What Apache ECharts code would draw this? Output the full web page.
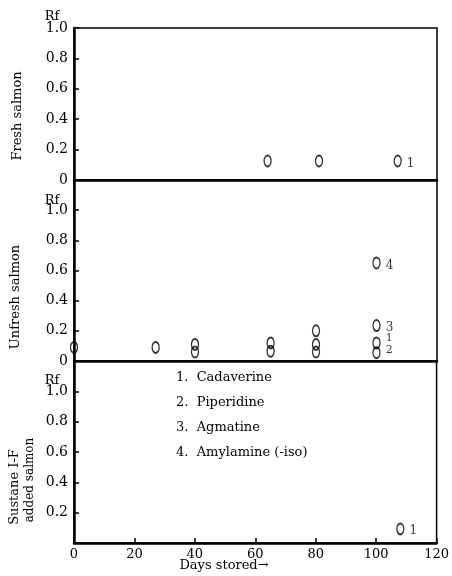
<!DOCTYPE html>
<html>
<head>
<meta charset="utf-8">
<script src="https://cdn.jsdelivr.net/npm/echarts@6/dist/echarts.min.js"></script>
<style>
html, body { margin: 0; padding: 0; background: #fff; }
#chart { width: 452px; height: 576px; }
</style>
</head>
<body>
<div id="chart"></div>
<script>
// axis ticks
const dayTicks = [0, 20, 40, 60, 80, 100, 120]
const rfTicks = [0, 0.2, 0.4, 0.6, 0.8, 1.0]

// fresh salmon spots
const freshDays = [64, 81, 107]
const freshRf = [0.125, 0.125, 0.125]
const freshTags = ['', '', '1']

// unfresh salmon spots (one pair of arrays per amine)
const cadDays = [0, 27, 40, 65, 80, 100]
const cadRf = [0.09, 0.09, 0.11, 0.12, 0.11, 0.12]
const cadTags = ['', '', '', '', '', '1']
const pipDays = [40, 65, 80, 100]
const pipRf = [0.06, 0.065, 0.06, 0.055]
const pipTags = ['', '', '', '2']
const agmDays = [80, 100]
const agmRf = [0.2, 0.235]
const agmTags = ['', '3']
const amyDays = [100]
const amyRf = [0.65]
const amyTags = ['4']

// sustane I-F added salmon
const sustDays = [108]
const sustRf = [0.093]
const sustTags = ['1']

const compounds = ['1.  Cadaverine', '2.  Piperidine', '3.  Agmatine', '4.  Amylamine (-iso)']

const serif = '"DejaVu Serif", "Liberation Serif", serif'
const tickStep = dayTicks[1] - dayTicks[0]
const rfStep = rfTicks[1] - rfTicks[0]

const grids = [
  { left: 74, right: 15, top: 28, height: 152 },
  { left: 74, right: 15, top: 180, height: 181 },
  { left: 74, right: 15, top: 361, height: 182 }
]

function dayAxis(i, showLabels) {
  return {
    type: 'value',
    gridIndex: i,
    min: dayTicks[0],
    max: dayTicks[dayTicks.length - 1],
    interval: tickStep,
    axisLine: { show: true, lineStyle: { color: '#000', width: 2.5 } },
    axisTick: { show: showLabels, inside: true, length: 5, lineStyle: { color: '#000', width: 1.5 } },
    axisLabel: { show: showLabels, color: '#000', fontFamily: serif, fontSize: 13, margin: 5 },
    splitLine: { show: false }
  }
}

function rfAxis(i, max, lo, hi) {
  return {
    type: 'value',
    gridIndex: i,
    min: 0,
    max: max,
    interval: rfStep,
    axisLine: { show: true, lineStyle: { color: '#000', width: 2.5 } },
    axisTick: { show: true, inside: true, length: 5, lineStyle: { color: '#000', width: 1.5 } },
    axisLabel: {
      color: '#000',
      fontFamily: serif,
      fontSize: 14,
      margin: 6,
      showMaxLabel: true,
      showMinLabel: true,
      formatter: v => (v < lo - 0.01 || v > hi + 0.01) ? '' : (v === 0 ? '0' : v.toFixed(1))
    },
    splitLine: { show: false }
  }
}

function spots(i, days, rf, tags, dy, size) {
  return {
    type: 'scatter',
    xAxisIndex: i,
    yAxisIndex: i,
    clip: false,
    symbol: 'circle',
    symbolSize: [7, 11],
    itemStyle: { color: 'rgba(0,0,0,0)', borderColor: '#000', borderWidth: 1.6 },
    label: {
      show: true,
      position: 'right',
      distance: 5,
      offset: [0, dy],
      color: '#000',
      fontFamily: serif,
      fontSize: size || 12
    },
    emphasis: { disabled: true },
    data: days.map((d, k) => ({
      value: [d, rf[k]],
      label: { show: tags[k] !== '', formatter: tags[k] }
    }))
  }
}

function vText(x, y, text, size) {
  return {
    type: 'text', x: x, y: y, rotation: Math.PI / 2,
    style: { text: text, fill: '#000', font: size + 'px ' + serif, textAlign: 'center', textVerticalAlign: 'middle' }
  }
}

function hText(x, y, text, size, align) {
  return {
    type: 'text', x: x, y: y,
    style: { text: text, fill: '#000', font: size + 'px ' + serif, textAlign: align || 'left', textVerticalAlign: 'middle' }
  }
}

const chart = echarts.init(document.getElementById('chart'))

const graphics = [
  vText(18, 116, 'Fresh salmon', 13),
  vText(16, 297, 'Unfresh salmon', 13),
  vText(15, 487, 'Sustane I-F', 13),
  vText(30, 480, 'added salmon', 12),
  hText(52, 17, 'Rf', 13, 'center'),
  hText(52, 201, 'Rf', 13, 'center'),
  hText(52, 381, 'Rf', 13, 'center'),
  hText(224, 566, 'Days stored\u2192', 13, 'center')
]
compounds.forEach((c, k) => graphics.push(hText(176, 378 + k * 25, c, 13)))

chart.setOption({
  animation: false,
  grid: grids.map(g => Object.assign({ show: true, borderColor: '#000', borderWidth: 1.5, backgroundColor: 'transparent' }, g)),
  xAxis: [dayAxis(0, false), dayAxis(1, false), dayAxis(2, true)],
  yAxis: [rfAxis(0, 1.0, 0, 1.0), rfAxis(1, 1.2, 0, 1.0), rfAxis(2, 1.2, 0.2, 1.0)],
  series: [
    spots(0, freshDays, freshRf, freshTags, 3),
    spots(1, cadDays, cadRf, cadTags, -5, 11),
    spots(1, pipDays, pipRf, pipTags, -3, 11),
    spots(1, agmDays, agmRf, agmTags, 2),
    spots(1, amyDays, amyRf, amyTags, 3),
    spots(2, sustDays, sustRf, sustTags, 2)
  ],
  graphic: graphics
})
</script>
</body>
</html>
